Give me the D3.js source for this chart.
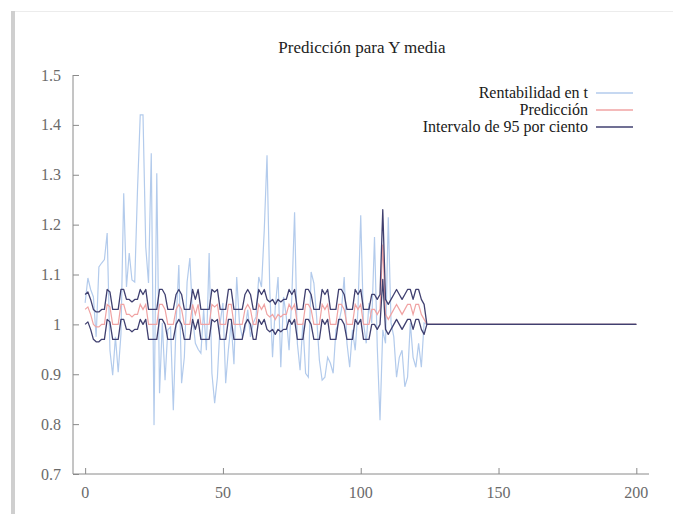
<!DOCTYPE html>
<html>
<head>
<meta charset="utf-8">
<script src="https://cdn.jsdelivr.net/npm/d3@7"></script>
<style>
  body { margin: 0; background: #fff; }
  text { font-family: "Liberation Serif", "Times New Roman", serif; }
</style>
</head>
<body>
<div id="chart"></div>
<script>
// rentabilidad observada, t = 0..124
const rentabilidad = [
  1.043, 1.093, 1.07, 1.055, 0.975, 1.115, 1.123, 1.13, 1.183, 0.948,
  0.898, 0.975, 0.904, 0.98, 1.263, 1.075, 1.143, 1.089, 1.085, 1.269,
  1.42, 1.42, 1.155, 1.083, 1.343, 0.798, 1.303, 0.862, 1.003, 0.888,
  0.989, 0.995, 0.828, 1.003, 1.119, 0.882, 0.934, 1.085, 1.133, 1.015,
  0.962, 0.95, 0.942, 1.029, 0.948, 1.143, 0.902, 0.842, 0.894, 1.003,
  1.043, 0.882, 0.95, 1.003, 0.92, 1.095, 1.003, 0.975, 0.989, 1.029,
  0.975, 1.003, 1.015, 1.095, 1.075, 1.189, 1.339, 1.069, 0.934, 1.035,
  1.095, 0.914, 1.055, 1.015, 0.948, 1.055, 1.225, 0.962, 0.908, 1.003,
  0.902, 0.894, 1.105, 1.083, 1.015, 0.928, 0.888, 0.894, 0.934, 0.922,
  0.902, 0.989, 1.003, 1.029, 1.095, 0.962, 0.914, 0.989, 0.948, 1.029,
  1.219, 1.003, 0.962, 1.043, 1.003, 1.175, 0.955, 0.808, 0.989, 0.962,
  1.215, 1.003, 0.975, 0.894, 0.934, 0.948, 0.875, 0.894, 1.003, 0.934,
  0.914, 0.962, 0.914, 1.003, 1.0
];

// prediccion, t = 0..124 (despues queda en 1)
const prediccion = [
  1.03, 1.035, 1.02, 1.0, 0.995, 0.995, 1.0, 1.0, 1.04, 1.035,
  1.0, 1.0, 1.0, 1.04, 1.04, 1.02, 1.02, 1.015, 1.02, 1.02,
  1.04, 1.03, 1.04, 1.0, 1.0, 1.0, 1.0, 1.04, 1.04, 1.03,
  1.0, 1.0, 1.0, 1.03, 1.04, 1.03, 1.0, 1.0, 1.0, 1.04,
  1.02, 1.04, 1.0, 1.0, 1.0, 1.0, 1.04, 1.035, 1.04, 1.0,
  1.0, 1.0, 1.04, 1.04, 1.0, 1.0, 1.0, 1.0, 1.03, 1.04,
  1.03, 1.0, 1.0, 1.04, 1.03, 1.04, 1.02, 1.015, 1.02, 1.01,
  1.02, 1.015, 1.02, 1.02, 1.04, 1.03, 1.04, 1.0, 1.0, 1.0,
  1.04, 1.04, 1.03, 1.0, 1.0, 1.0, 1.04, 1.03, 1.04, 1.0,
  1.0, 1.0, 1.04, 1.04, 1.03, 1.0, 1.0, 1.0, 1.04, 1.03,
  1.04, 1.0, 1.0, 1.0, 1.03, 1.03, 1.02, 1.03, 1.16, 1.02,
  1.01, 1.02, 1.03, 1.04, 1.03, 1.02, 1.03, 1.04, 1.04, 1.02,
  1.04, 1.04, 1.02, 1.01, 1.0
];

const limiteInf = [
  1.0, 1.005, 0.99, 0.97, 0.965, 0.965, 0.97, 0.97, 1.01, 1.005,
  0.97, 0.97, 0.97, 1.01, 1.01, 0.99, 0.99, 0.985, 0.99, 0.99,
  1.01, 1.0, 1.01, 0.97, 0.97, 0.97, 0.97, 1.01, 1.01, 1.0,
  0.97, 0.97, 0.97, 1.0, 1.01, 1.0, 0.97, 0.97, 0.97, 1.01,
  0.99, 1.01, 0.97, 0.97, 0.97, 0.97, 1.01, 1.005, 1.01, 0.97,
  0.97, 0.97, 1.01, 1.01, 0.97, 0.97, 0.97, 0.97, 1.0, 1.01,
  1.0, 0.97, 0.97, 1.01, 1.0, 1.01, 0.99, 0.985, 0.99, 0.98,
  0.99, 0.985, 0.99, 0.99, 1.01, 1.0, 1.01, 0.97, 0.97, 0.97,
  1.01, 1.01, 1.0, 0.97, 0.97, 0.97, 1.01, 1.0, 1.01, 0.97,
  0.97, 0.97, 1.01, 1.01, 1.0, 0.97, 0.97, 0.97, 1.01, 1.0,
  1.01, 0.97, 0.97, 0.97, 1.0, 1.0, 0.99, 1.0, 1.09, 0.99,
  0.98, 0.99, 1.0, 1.01, 1.0, 0.99, 1.0, 1.01, 1.01, 0.99,
  1.01, 1.01, 0.99, 0.98, 1.0
];

const limiteSup = [
  1.06, 1.065, 1.05, 1.03, 1.025, 1.025, 1.03, 1.03, 1.07, 1.065,
  1.03, 1.03, 1.03, 1.07, 1.07, 1.05, 1.05, 1.045, 1.05, 1.05,
  1.07, 1.06, 1.07, 1.03, 1.03, 1.03, 1.03, 1.07, 1.07, 1.06,
  1.03, 1.03, 1.03, 1.06, 1.07, 1.06, 1.03, 1.03, 1.03, 1.07,
  1.05, 1.07, 1.03, 1.03, 1.03, 1.03, 1.07, 1.065, 1.07, 1.03,
  1.03, 1.03, 1.07, 1.07, 1.03, 1.03, 1.03, 1.03, 1.06, 1.07,
  1.06, 1.03, 1.03, 1.07, 1.06, 1.07, 1.05, 1.045, 1.05, 1.04,
  1.05, 1.045, 1.05, 1.05, 1.07, 1.06, 1.07, 1.03, 1.03, 1.03,
  1.07, 1.07, 1.06, 1.03, 1.03, 1.03, 1.07, 1.06, 1.07, 1.03,
  1.03, 1.03, 1.07, 1.07, 1.06, 1.03, 1.03, 1.03, 1.07, 1.06,
  1.07, 1.03, 1.03, 1.03, 1.06, 1.06, 1.05, 1.06, 1.23, 1.05,
  1.04, 1.05, 1.06, 1.07, 1.06, 1.05, 1.06, 1.07, 1.07, 1.05,
  1.07, 1.07, 1.05, 1.04, 1.0
];

// tramo final sin datos: todo en 1 hasta t = 200
const tramoFinal = [[125, 1.0], [200, 1.0]];

const xTicks = [0, 50, 100, 150, 200];
const yTicks = [0.7, 0.8, 0.9, 1.0, 1.1, 1.2, 1.3, 1.4, 1.5];

const leyenda = [
  { nombre: "Rentabilidad en t", color: "#b3cbec" },
  { nombre: "Predicción", color: "#f0a3a3" },
  { nombre: "Intervalo de 95 por ciento", color: "#404070" }
];

const width = 673, height = 514;

const svg = d3.select("#chart")
    .append("svg")
    .attr("width", width)
    .attr("height", height);

// borde de la captura
svg.append("line")
    .attr("x1", 12).attr("y1", 11.5).attr("x2", 673).attr("y2", 11.5)
    .attr("stroke", "#ececec").attr("stroke-width", 1);
svg.append("rect")
    .attr("x", 11).attr("y", 11).attr("width", 4).attr("height", height - 11)
    .attr("fill", "#cfcfcf");

const x = d3.scaleLinear().domain([-4.4, 204.6]).range([73, 649]);
const y = d3.scaleLinear().domain([0.7, 1.5]).range([474, 75]);

const axisColor = "#8a8a8a";

// ejes: solo izquierda y abajo, ticks hacia dentro
const yAxis = svg.append("g")
    .attr("transform", "translate(73,0)")
    .call(d3.axisRight(y).tickValues(yTicks).tickSize(6).tickFormat(""));
const xAxis = svg.append("g")
    .attr("transform", "translate(0,474)")
    .call(d3.axisTop(x).tickValues(xTicks).tickSize(6).tickFormat(""));

[yAxis, xAxis].forEach(g => {
    g.select(".domain").remove();
    g.selectAll("line").attr("stroke", axisColor);
});

svg.append("path")
    .attr("d", `M73,${y(1.5)}V474H649`)
    .attr("fill", "none")
    .attr("stroke", axisColor)
    .attr("stroke-width", 1);

svg.selectAll(".ylab")
    .data(yTicks)
    .enter()
    .append("text")
    .attr("x", 61)
    .attr("y", d => y(d) + 5.5)
    .attr("text-anchor", "end")
    .attr("font-size", 16)
    .attr("fill", "#6a6a6a")
    .text(d => d3.format("")(+d.toFixed(1)));

svg.selectAll(".xlab")
    .data(xTicks)
    .enter()
    .append("text")
    .attr("x", d => x(d))
    .attr("y", 498)
    .attr("text-anchor", "middle")
    .attr("font-size", 16)
    .attr("fill", "#6a6a6a")
    .text(d => d);

svg.append("text")
    .attr("x", 362)
    .attr("y", 53)
    .attr("text-anchor", "middle")
    .attr("font-size", 17)
    .attr("fill", "#222")
    .text("Predicción para Y media");

const line = d3.line()
    .x(d => x(d[0]))
    .y(d => y(d[1]));

const toPts = arr => arr.map((v, i) => [i, v]);

svg.append("path")
    .datum(toPts(rentabilidad))
    .attr("d", line)
    .attr("fill", "none")
    .attr("stroke", leyenda[0].color)
    .attr("stroke-width", 1.2);

svg.append("path")
    .datum(toPts(prediccion).concat(tramoFinal))
    .attr("d", line)
    .attr("fill", "none")
    .attr("stroke", leyenda[1].color)
    .attr("stroke-width", 1.2);

[limiteSup, limiteInf].forEach(arr => {
    svg.append("path")
        .datum(toPts(arr).concat(tramoFinal))
        .attr("d", line)
        .attr("fill", "none")
        .attr("stroke", leyenda[2].color)
        .attr("stroke-width", 1.3)
        .attr("stroke-linejoin", "round");
});

// leyenda
const leg = svg.append("g");
leyenda.forEach((d, i) => {
    const yy = 93 + i * 17;
    leg.append("text")
        .attr("x", 588)
        .attr("y", yy + 5)
        .attr("text-anchor", "end")
        .attr("font-size", 16)
        .attr("fill", "#1a1a1a")
        .text(d.nombre);
    leg.append("line")
        .attr("x1", 596).attr("x2", 633)
        .attr("y1", yy).attr("y2", yy)
        .attr("stroke", d.color)
        .attr("stroke-width", 1.3);
});
</script>
</body>
</html>
